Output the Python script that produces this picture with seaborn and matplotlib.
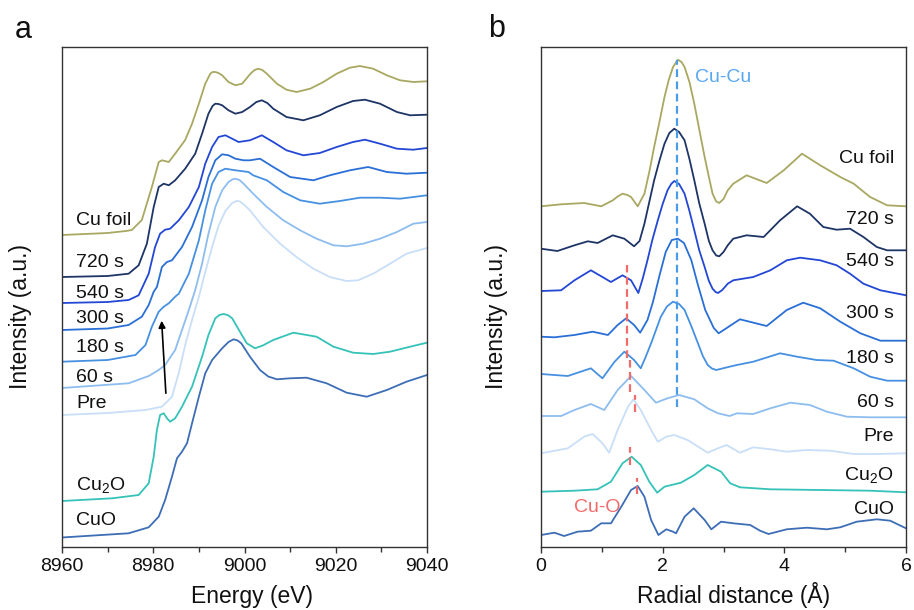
import numpy as np
import pandas as pd
import matplotlib
matplotlib.use("Agg")
import matplotlib.pyplot as plt
import seaborn as sns
from matplotlib.ticker import MultipleLocator

sns.set_theme(style="white")
plt.rcParams["font.family"] = ["Liberation Sans", "DejaVu Sans"]
plt.rcParams["mathtext.fontset"] = "custom"
plt.rcParams["mathtext.rm"] = "Liberation Sans"
plt.rcParams["mathtext.it"] = "Liberation Sans:italic"

# ---------------- data: panel a (XANES), energy in eV, intensity in a.u. (offset) ----------------
samples = ["Cu foil", "720 s", "540 s", "300 s", "180 s", "60 s", "Pre", "Cu2O", "CuO"]
labels = ["Cu foil", "720 s", "540 s", "300 s", "180 s", "60 s", "Pre",
          r"Cu$_\mathregular{2}$O", "CuO"]
colors = ["#a8a862", "#1e3466", "#2347d4", "#2a6fd6", "#4690e2", "#8dbdef",
          "#c9def7", "#35c2b8", "#3d6db5"]

a_cufoil_e = [8960, 8970, 8974, 8975.3, 8977.5, 8979.7, 8981.2, 8981.9, 8983.4, 8984.8, 8987.0, 8988.5,
              8990.0, 8991.4, 8992.5, 8993.0, 8993.6, 8994.3, 8995.1, 8996.5, 8998.0, 8999.5, 9001.3,
              9002.2, 9003.0, 9003.9, 9004.9, 9007.1, 9009.2, 9011.4, 9014.4, 9017.3, 9020.2, 9023.1,
              9025.3, 9028.2, 9031.2, 9034.1, 9037.0, 9040]
a_cufoil_y = [312, 314, 316, 317, 327, 360, 385, 386.7, 385, 393.3, 407, 423.3,
              443.3, 463.3, 473.3, 475, 475, 474, 471.7, 465, 461.7, 463.3, 473.3,
              477, 478.3, 477, 473.3, 463.3, 457.3, 455, 458.3, 465, 473.3, 479.3,
              481, 478.3, 471.7, 466.7, 465, 465.7]

a_720_e = [8960, 8970, 8974.6, 8976.8, 8978.6, 8980.1, 8981.2, 8982.3, 8983.4, 8984.8, 8987.0, 8989.2,
           8990.7, 8992.1, 8993.0, 8993.6, 8994.3, 8995.1, 8996.5, 8998.0, 8999.5, 9001.2, 9002.6,
           9003.8, 9005.0, 9006.3, 9009.2, 9012.9, 9016.5, 9020.2, 9023.8, 9026.4, 9029.7, 9033.4,
           9036.3, 9040]
a_720_y = [270, 271, 273.3, 281.7, 303.3, 340, 360, 363.3, 361.7, 366.7, 378.3, 393.3,
           413.3, 433.3, 441, 443.3, 443, 441.7, 436.7, 433.3, 435, 440, 445,
           446.7, 444, 438.3, 430, 426.7, 431.7, 440, 446, 447.3, 443.3, 435,
           431.7, 432.3]

a_540_e = [8960, 8970, 8974.6, 8976.8, 8979.0, 8980.4, 8981.5, 8982.6, 8983.7, 8985.6, 8987.8, 8990.0,
           8991.4, 8992.9, 8994.3, 8995.8, 8997.3, 8998.7, 9001.2, 9003.8, 9006.3, 9009.2, 9012.9,
           9016.5, 9020.2, 9023.8, 9026.4, 9029.7, 9033.4, 9037.0, 9040]
a_540_y = [244, 245, 247, 251.7, 273.3, 300, 313.3, 317.3, 318.3, 326.7, 340, 360,
           383.3, 400, 410, 411.7, 408.3, 405, 406.7, 411.7, 405, 396.7, 391.7,
           394, 400, 405, 407.3, 403.3, 398.3, 397.3, 399]

a_300_e = [8960, 8970, 8974.6, 8977.5, 8979.0, 8980.1, 8980.8, 8981.9, 8983.0, 8984.1, 8986.3, 8988.5,
           8990.7, 8992.1, 8993.6, 8995.1, 8996.5, 8998.0, 8999.8, 9001.2, 9003.4, 9006.3, 9010.0,
           9015.1, 9018.7, 9023.1, 9027.1, 9031.2, 9035.5, 9040]
a_300_y = [217, 218.5, 222, 230.3, 242, 255.3, 260, 280, 285, 286.7, 300, 320,
           346.7, 370, 386.7, 392.7, 391.7, 388.3, 386.7, 386.7, 388.3, 380, 370,
           366.7, 371.7, 376.7, 380, 375, 373.3, 374.3]

a_180_e = [8960, 8970, 8976.1, 8978.3, 8979.7, 8981.2, 8982.3, 8983.4, 8984.8, 8985.6, 8987.8, 8990.0,
           8991.4, 8992.9, 8994.3, 8995.8, 8998.0, 9000.9, 9001.9, 9004.9, 9008.5, 9012.2, 9016.5,
           9020.9, 9025.3, 9029.7, 9034.1, 9040]
a_180_y = [185.3, 187, 192, 202, 220.3, 235.3, 240.3, 243.7, 250.3, 253.3, 273.3, 306.7,
           336.7, 363.3, 375, 378.3, 376.7, 375, 371.7, 366.7, 355, 346.7, 343.3,
           346, 349.3, 349.3, 348.3, 351.7]

a_60_e = [8960, 8974.6, 8979.0, 8981.2, 8982.6, 8984.8, 8986.3, 8987.8, 8989.2, 8990.7, 8992.1, 8993.6,
          8995.1, 8996.5, 8997.3, 8998.0, 8998.9, 8999.8, 9001.9, 9004.9, 9008.5, 9012.2, 9015.8,
          9019.5, 9022.4, 9026.0, 9029.7, 9033.4, 9037.0, 9040]
a_60_y = [159, 163.7, 171, 177, 182, 197, 217, 237, 257, 283.3, 313.3, 340,
          356.7, 365, 367.5, 368.3, 367, 363.3, 353.3, 340, 326.7, 316.7, 308.3,
          301.7, 300.7, 303.3, 308.3, 315, 323.3, 325]

a_pre_e = [8960, 8970, 8978.3, 8981.9, 8984.1, 8985.6, 8987.0, 8988.5, 8990.0, 8991.4, 8992.9, 8994.3,
           8995.8, 8997.3, 8998.2, 8999.0, 9000.0, 9001.2, 9004.1, 9007.8, 9011.4, 9015.1, 9018.7,
           9022.4, 9024.9, 9028.2, 9031.9, 9035.5, 9040]
a_pre_y = [132, 134, 137, 140.3, 150.3, 174, 202, 227, 250, 275, 300, 321,
           336, 344, 346, 345.5, 342, 336.7, 320, 303.3, 290, 278.3, 270,
           266, 266.7, 273.3, 283.3, 293.3, 299]

a_cu2o_e = [8960, 8971, 8976.8, 8979.0, 8980.1, 8980.8, 8981.5, 8982.3, 8983.0, 8983.7, 8984.8, 8986.3,
            8988.5, 8990.7, 8992.1, 8993.6, 8994.5, 8995.4, 8996.3, 8997.3, 8999.2, 9000.5, 9002.3,
            9004.0, 9006.3, 9010.7, 9015.8, 9019.5, 9023.8, 9028.2, 9031.9, 9036.3, 9040]
a_cu2o_y = [46, 48.7, 52, 63.7, 90.3, 117, 132, 133.7, 128.7, 125.3, 128.7, 140.3,
            160.3, 190.3, 212, 228.7, 232, 233, 232, 228.7, 213.7, 203.7, 198.7,
            201.5, 207, 214.3, 210.3, 200.3, 194.3, 193, 195.3, 200.3, 204.3]

a_cuo_e = [8960, 8974.6, 8979.0, 8981.2, 8982.6, 8984.1, 8985.2, 8986.3, 8987.4, 8988.5, 8990.0, 8991.4,
           8992.9, 8995.1, 8996.5, 8997.6, 8998.5, 8999.3, 9001.2, 9003.4, 9005.2, 9007.1, 9010.0,
           9013.6, 9018.0, 9022.4, 9026.8, 9031.2, 9035.5, 9040]
a_cuo_y = [9.5, 13.7, 19.7, 30.3, 47, 70.3, 88.7, 95.3, 103.7, 123.7, 150.3, 173.7,
           187, 198.7, 205, 207.7, 206.5, 203.7, 190.3, 177, 170.5, 167.7, 168.7,
           169.3, 163.7, 154.3, 150.3, 157, 165.3, 172]

# ---------------- data: panel b (FT-EXAFS), radial distance in Å ----------------
b_cufoil_r = [0, 0.33, 0.71, 0.99, 1.18, 1.26, 1.34, 1.42, 1.48, 1.59, 1.70, 1.78, 1.86, 1.95, 2.03,
              2.10, 2.17, 2.25, 2.31, 2.36, 2.44, 2.52, 2.60, 2.69, 2.76, 2.82, 2.88, 2.93, 3.00, 3.07,
              3.16, 3.38, 3.71, 3.99, 4.29, 4.59, 4.92, 5.14, 5.41, 5.69, 6.0]
b_cufoil_y = [340.7, 342.7, 344, 340.7, 346.7, 350.5, 353.3, 352, 350, 340.7, 353.3, 375, 400, 426, 450,
              467, 480, 487.3, 485, 480, 465, 443.3, 418, 390, 370, 353.3, 345.5, 344, 348, 356.7,
              363.3, 371.7, 364, 376.7, 393.3, 381.7, 370, 363.3, 350, 341.7, 340.7]

b_720_r = [0, 0.27, 0.55, 0.77, 0.93, 1.18, 1.37, 1.53, 1.62, 1.70, 1.78, 1.86, 1.95, 2.03, 2.11,
           2.19, 2.27, 2.36, 2.44, 2.52, 2.60, 2.69, 2.76, 2.82, 2.88, 2.93, 3.00, 3.07, 3.16, 3.38,
           3.66, 3.93, 4.21, 4.42, 4.64, 4.86, 5.08, 5.30, 5.52, 5.69, 6.0]
b_720_y = [298.3, 296, 301.7, 305.7, 304, 311.7, 308.3, 300.7, 306, 323.3, 345, 366.7, 387, 403.3, 414,
           418.3, 415, 406.7, 388, 366.7, 344, 323.3, 306, 296.7, 291.5, 290.7, 295, 301.7, 308.3,
           311.7, 310, 326.7, 340.7, 333.3, 320, 317.3, 318.3, 310, 300, 296.7, 296.7]

b_540_r = [0, 0.33, 0.55, 0.82, 1.01, 1.15, 1.34, 1.48, 1.60, 1.67, 1.75, 1.83, 1.92, 2.00, 2.08,
           2.14, 2.19, 2.27, 2.36, 2.44, 2.52, 2.60, 2.69, 2.76, 2.82, 2.87, 2.91, 2.98, 3.07, 3.16,
           3.49, 3.77, 4.04, 4.26, 4.59, 4.86, 5.08, 5.30, 5.58, 6.0]
b_540_y = [256, 256.7, 266.7, 276.7, 270, 265, 271.7, 266.7, 254, 268, 286.7, 307, 326.7, 343, 356.7,
           363, 366, 363, 353.3, 336, 316.7, 297, 280, 266, 258.3, 255, 254, 257, 263.3, 266.7,
           270, 276.7, 286.7, 289.3, 286.7, 281.7, 273.3, 263.3, 256.7, 251.7]

b_300_r = [0, 0.22, 0.55, 0.85, 1.10, 1.26, 1.40, 1.53, 1.63, 1.75, 1.84, 1.95, 2.05, 2.15, 2.25,
           2.35, 2.47, 2.58, 2.70, 2.84, 2.92, 3.27, 3.71, 4.04, 4.31, 4.59, 4.92, 5.25, 5.58, 6.0]
b_300_y = [210.3, 209.7, 212, 215.3, 212, 222, 228.7, 222, 214.3, 227, 245, 272, 295, 307, 308.3,
           304, 287, 262, 237, 219, 213.7, 227.7, 221, 237, 244.3, 238.7, 225.3, 213.7, 206.3, 206.3]

b_180_r = [0, 0.44, 0.82, 1.01, 1.21, 1.37, 1.53, 1.64, 1.72, 1.81, 1.89, 1.97, 2.07, 2.17, 2.27,
           2.36, 2.47, 2.58, 2.66, 2.74, 2.81, 2.88, 3.10, 3.22, 3.49, 3.93, 4.21, 4.53, 4.81, 5.14,
           5.41, 5.69, 6.0]
b_180_y = [173, 171, 178.7, 168.7, 185.3, 195.3, 187, 178.7, 190, 203.7, 217, 230.3, 240.5, 245.3, 243,
           237, 221, 203.7, 191, 182, 178.5, 177, 180.3, 182, 185.3, 193.7, 190.3, 187, 186.3, 178.7,
           170.3, 166.3, 166.3]

b_60_r = [0, 0.33, 0.55, 0.82, 1.04, 1.26, 1.48, 1.70, 1.89, 2.08, 2.27, 2.52, 2.74, 2.91, 3.10,
          3.22, 3.49, 3.77, 4.10, 4.42, 4.70, 5.03, 5.41, 6.0]
b_60_y = [131, 131, 137, 143, 137, 157, 171, 157, 144.3, 148.7, 152, 147.7, 138.7, 133.7, 131,
          133.7, 133, 138.7, 144.3, 142, 135.3, 130.3, 129.7, 129.7]

b_pre_r = [0, 0.44, 0.71, 0.85, 1.01, 1.12, 1.26, 1.43, 1.52, 1.64, 1.81, 1.92, 2.06, 2.19, 2.41,
           2.74, 2.91, 3.05, 3.27, 3.49, 3.77, 4.04, 4.37, 4.75, 5.14, 5.52, 6.0]
b_pre_y = [93.7, 98.7, 110.3, 113, 103.7, 94.3, 117, 140.3, 147.7, 137, 117, 105.3, 110.3, 112, 107,
           94.3, 98.7, 102, 94.3, 99.7, 97.7, 95.3, 97, 96.3, 93, 93, 93.7]

b_cu2o_r = [0, 0.55, 0.93, 1.15, 1.34, 1.49, 1.64, 1.78, 1.91, 2.03, 2.30, 2.52, 2.74, 2.96, 3.11,
            3.27, 3.77, 4.59, 5.41, 6.0]
b_cu2o_y = [55.3, 56.3, 57.7, 65.3, 83.7, 90.3, 82, 65.3, 54.3, 60.3, 64.3, 72, 82, 75.3, 63.7,
            59.7, 57.7, 57, 56.3, 54.7]

b_cuo_r = [0, 0.22, 0.38, 0.60, 0.82, 0.99, 1.15, 1.32, 1.48, 1.59, 1.70, 1.81, 1.93, 2.06, 2.17,
           2.22, 2.36, 2.51, 2.69, 2.80, 2.96, 3.16, 3.44, 3.60, 3.74, 4.04, 4.37, 4.70, 4.92, 5.19,
           5.52, 5.74, 6.0]
b_cuo_y = [12, 14.3, 11, 15.3, 16.3, 23.7, 23.7, 40.3, 57, 61, 50.3, 27, 12, 17.7, 15.3,
           13.7, 30.3, 38.7, 27, 17.7, 25.3, 23.7, 22, 16.3, 13, 17.7, 19.3, 17.7, 19.7, 25.3,
           27.7, 26.3, 18.7]

# label positions (text) --------------------------------------------------------------
a_label_y = [322, 280, 249, 224, 195, 165, 139, 57, 22]
b_label_y = [383.7, 323, 281, 228.7, 183.7, 140.3, 106, 67, 32.7]

a_sets = [(a_cufoil_e, a_cufoil_y), (a_720_e, a_720_y), (a_540_e, a_540_y), (a_300_e, a_300_y),
          (a_180_e, a_180_y), (a_60_e, a_60_y), (a_pre_e, a_pre_y), (a_cu2o_e, a_cu2o_y),
          (a_cuo_e, a_cuo_y)]
b_sets = [(b_cufoil_r, b_cufoil_y), (b_720_r, b_720_y), (b_540_r, b_540_y), (b_300_r, b_300_y),
          (b_180_r, b_180_y), (b_60_r, b_60_y), (b_pre_r, b_pre_y), (b_cu2o_r, b_cu2o_y),
          (b_cuo_r, b_cuo_y)]


def to_long(sets):
    frames = []
    for name, (xs, ys) in zip(samples, sets):
        frames.append(pd.DataFrame({"x": xs, "y": ys, "sample": name}))
    return pd.concat(frames, ignore_index=True)


df_a = to_long(a_sets)
df_b = to_long(b_sets)
palette = dict(zip(samples, colors))

W, H = 914, 610
fig = plt.figure(figsize=(W / 100, H / 100), dpi=100)
ax_a = fig.add_axes([62 / W, 1 - 547 / H, 365 / W, 500 / H])
ax_b = fig.add_axes([541 / W, 1 - 547 / H, 365 / W, 500 / H])

for ax, df in ((ax_a, df_a), (ax_b, df_b)):
    sns.lineplot(data=df, x="x", y="y", hue="sample", hue_order=samples[::-1], palette=palette,
                 estimator=None, sort=False, legend=False, linewidth=1.3, ax=ax)
    for ln in ax.lines:
        ln.set_solid_joinstyle("round")
        ln.set_solid_capstyle("round")
    ax.set_ylim(0, 500)
    ax.set_yticks([])
    ax.set_xlabel("")
    ax.set_ylabel("")
    for s in ax.spines.values():
        s.set_color("#333333")
        s.set_linewidth(1.0)
    ax.tick_params(axis="x", which="major", direction="out", length=4, width=1.0,
                   color="#333333", labelsize=14, pad=4, bottom=True, labelcolor="#111111")
    ax.tick_params(axis="x", which="minor", direction="out", length=3.5, width=1.0,
                   color="#333333", bottom=True)

ax_a.set_xlim(8960, 9040)
ax_a.xaxis.set_major_locator(MultipleLocator(20))
ax_a.xaxis.set_minor_locator(MultipleLocator(10))
ax_b.set_xlim(0, 6)
ax_b.xaxis.set_major_locator(MultipleLocator(2))
ax_b.xaxis.set_minor_locator(MultipleLocator(1))

# curve labels
for lab, y in zip(labels, a_label_y):
    ax_a.text(8963.1, y, lab, fontsize=14, ha="left", va="baseline", color="#111111")
for lab, y in zip(labels, b_label_y):
    ax_b.text(5.80, y, lab, fontsize=14, ha="right", va="baseline", color="#111111")

# arrow in panel a
ax_a.annotate("", xy=(8981.8, 229), xytext=(8982.8, 151),
              arrowprops=dict(arrowstyle="-|>", color="black", lw=1.2, mutation_scale=10))

# dashed guide lines in panel b
cucu_color = "#4a9be8"
cuo_color = "#f26b6b"
ax_b.plot([2.24, 2.24], [140, 487], ls=(0, (3.5, 2)), color=cucu_color, lw=1.6)
for x, y0, y1 in [(1.41, 189, 282), (1.465, 155, 187), (1.55, 135, 152), (1.47, 82, 100),
                  (1.58, 53, 69)]:
    ax_b.plot([x, x], [y0, y1], ls=(0, (3.5, 2)), color=cuo_color, lw=1.6)
ax_b.text(2.53, 465.3, "Cu-Cu", fontsize=14, color="#5aa8f0", ha="left", va="baseline")
ax_b.text(1.30, 35.3, "Cu-O", fontsize=14, color=cuo_color, ha="right", va="baseline")

# axis labels and panel letters
fig.text(251.7 / W, 1 - 603 / H, "Energy (eV)", fontsize=16.5, ha="center", va="baseline",
         color="#111111")
fig.text(733.5 / W, 1 - 603 / H, "Radial distance (Å)", fontsize=16.5, ha="center",
         va="baseline", color="#111111")
fig.text(21 / W, 1 - 316.5 / H, "Intensity (a.u.)", fontsize=16.5, rotation=90, ha="center",
         va="center", color="#111111")
fig.text(497 / W, 1 - 316.5 / H, "Intensity (a.u.)", fontsize=16.5, rotation=90, ha="center",
         va="center", color="#111111")
fig.text(15 / W, 1 - 38 / H, "a", fontsize=22, ha="left", va="baseline", color="#111111")
fig.text(488 / W, 1 - 37 / H, "b", fontsize=22, ha="left", va="baseline", color="#111111")

fig.savefig("out.png", dpi=100)
